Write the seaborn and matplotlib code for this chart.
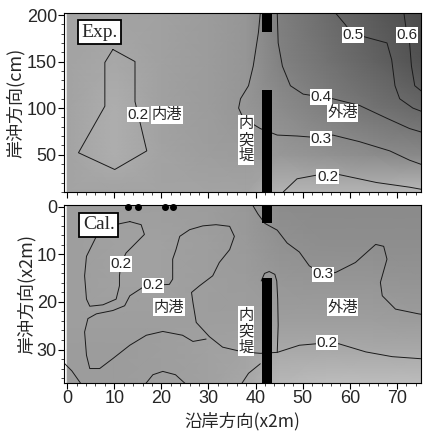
import numpy as np
import matplotlib
matplotlib.use("Agg")
import matplotlib.pyplot as plt
from matplotlib.colors import LinearSegmentedColormap
from matplotlib.ticker import MultipleLocator
import seaborn as sns

sns.set_theme(style="white")
plt.rcParams["font.family"] = ["Liberation Sans", "DejaVu Sans"]
CJK = ["Noto Sans CJK JP", "DejaVu Sans"]

# ---- shading field (wave height ratio) ----
exp_gx = [0, 10, 20, 30, 38, 45, 55, 65, 76]
exp_gy = [10, 50, 100, 150, 202]
exp_gz = [
    [0.22, 0.22, 0.22, 0.22, 0.22, 0.18, 0.18, 0.18, 0.17],
    [0.22, 0.19, 0.22, 0.24, 0.25, 0.27, 0.30, 0.33, 0.35],
    [0.22, 0.19, 0.23, 0.25, 0.28, 0.33, 0.40, 0.45, 0.50],
    [0.22, 0.20, 0.23, 0.25, 0.28, 0.38, 0.45, 0.52, 0.60],
    [0.22, 0.22, 0.23, 0.25, 0.28, 0.40, 0.48, 0.55, 0.62],
]
cal_gx = [0, 10, 20, 30, 38, 45, 55, 65, 76]
cal_gy = [-1, 8, 16, 24, 30, 38]
cal_gz = [
    [0.24, 0.24, 0.24, 0.25, 0.27, 0.33, 0.34, 0.34, 0.34],
    [0.24, 0.23, 0.23, 0.24, 0.26, 0.30, 0.32, 0.32, 0.32],
    [0.24, 0.23, 0.23, 0.24, 0.25, 0.27, 0.28, 0.28, 0.29],
    [0.24, 0.24, 0.24, 0.24, 0.24, 0.24, 0.24, 0.24, 0.25],
    [0.25, 0.25, 0.24, 0.23, 0.22, 0.20, 0.20, 0.20, 0.20],
    [0.25, 0.25, 0.24, 0.23, 0.20, 0.17, 0.16, 0.16, 0.16],
]

# ---- contour lines ----
exp_lines = [
    ([9.7, 14.4, 14.4, 15.4, 16.9, 10.1, 2.4, 8, 8, 9.7],
     [163, 150, 107, 86, 54, 34, 52, 102, 149, 163]),
    ([41, 40.6, 39.5, 38.5, 36.8, 36.4, 37.4, 41, 44.6, 48.8, 53.9, 56.4, 62, 68.5, 72.7, 76],
     [202, 181, 145, 124, 110, 100, 89, 78, 71, 70, 68, 71, 64, 54, 44, 38]),
    ([44.6, 44.8, 45.7, 47.4, 50.1, 53.9, 56.4, 62, 67.9, 72.7, 76],
     [202, 170, 145, 124, 115, 112, 110, 103, 89, 78, 73]),
    ([57, 59, 60.7, 62.8, 67.9, 68.9, 69.6, 70.6, 73.4, 76],
     [202, 190, 178.6, 177, 170, 152, 124, 110, 100, 95]),
    ([71.5, 72.1, 72.7, 73.1, 73.8, 76],
     [202, 180, 170, 145, 124, 115]),
    ([45.9, 48.8, 53, 55.3, 57.3, 65.7, 72.7, 76],
     [10, 24, 28, 27, 29, 20, 15, 12]),
]
cal_lines = [
    ([13.3, 15.7, 16.4, 14.3, 12.5, 11.4, 11.1, 11.1, 10.4, 7.6, 4.8, 4.1, 3.7, 4.1, 5.5, 6.2, 9, 13.3],
     [3.1, 3.75, 5.8, 7.9, 9.7, 12, 14.5, 16.6, 19.4, 20.6, 20.9, 19.4, 14.5, 10.4, 7.6, 6.2, 4, 3.1]),
    ([16.1, 18.2, 21.7, 22.4, 22.4, 23.1, 23.9, 26, 28.8, 31.6, 34.5, 35.5, 34.5, 32.3, 30.9, 28.1,
      26.4, 26.7, 27.4, 30.2, 33, 37.3, 41, 44.6, 49.3, 55.1, 57.7, 63.4, 69, 76],
     [16.9, 16.5, 16.3, 15.2, 11, 9, 6.2, 4.8, 4, 3.75, 4.1, 6.2, 9, 11.7, 14.5, 16.6,
      18, 20.1, 24.3, 27.3, 29.5, 30.5, 30.8, 30.6, 29.1, 28.6, 28.8, 30.5, 31.5, 32]),
    ([16.1, 13.3, 12.2, 9.7, 6.2, 4.4, 3.7, 4.1, 4.8, 6.9, 9.7, 13.3, 16.8, 20.3, 24.5, 26.7, 29.5],
     [16.9, 18.7, 20.8, 21.8, 22.5, 23.5, 26.3, 31.2, 34, 34, 31.9, 29.1, 27, 26.2, 27, 28.3, 27.8]),
    ([39, 40.5, 42, 44.6, 46.7, 49.3, 51.4, 54.3, 57, 61.2, 65.5, 67.2, 67.9, 66.5, 66.9, 69.7, 74.6, 76],
     [-1, 1.5, 3.5, 4.9, 7.6, 9.5, 12.4, 14.2, 13.8, 11.7, 7.9, 8.3, 11, 15.9, 18.7, 21.5, 22.5, 22.7]),
    ([41.2, 41.9, 42.9, 44.1, 44.5, 44.7, 44.8, 44.6],
     [15.6, 14, 13.6, 14.2, 15.6, 19.4, 24.9, 30.6]),
    ([16, 18.2, 20.3, 23, 26], [38, 35.3, 34.6, 35.3, 38]),
    ([-1, 1, 3.5], [32.5, 34.5, 38]),
    ([36.5, 38.5, 41], [38, 35, 33]),
]

# contour labels / place names
exp_labels = [(15, 92.8, "0.2"), (53.9, 67, "0.3"), (53.9, 112, "0.4"),
              (60.7, 178.6, "0.5"), (72.1, 178.6, "0.6"), (55.3, 26.4, "0.2")]
exp_names = [(21.2, 92.8, "内港"), (58.5, 95, "外港"), (37.9, 66, "内\n突\n堤")]
cal_labels = [(11.4, 12, "0.2"), (18.2, 16.5, "0.2"), (54.3, 14.2, "0.3"), (55.1, 28.6, "0.2")]
cal_names = [(21.6, 21.1, "内港"), (58.5, 21.1, "外港"), (37.9, 26.1, "内\n突\n堤")]

# breakwater (x range, y segments)
bw_x = (41.4, 43.4)
exp_bw = [(181.8, 203), (8, 119.6)]
cal_bw = [(-1, 3.5), (15, 38)]
gauge_x = [12.9, 15.0, 20.7, 22.5]

cmap = LinearSegmentedColormap.from_list(
    "halftone",
    [(0.0, "#d4d4d4"), (0.11, "#bebebe"), (0.18, "#a8a8a8"), (0.27, "#9c9c9c"),
     (0.36, "#929292"), (0.55, "#7e7e7e"), (0.73, "#676767"), (1.0, "#444444")])
VMIN, VMAX = 0.10, 0.65

fig = plt.figure(figsize=(4.23, 4.38), dpi=100)
ax1 = fig.add_axes([0.151, 0.562, 0.844, 0.408])
ax2 = fig.add_axes([0.151, 0.126, 0.844, 0.405])


def draw_panel(ax, gx, gy, gz, lines, labels, names, bw):
    X, Y = np.meshgrid(gx, gy)
    ax.pcolormesh(X, Y, np.array(gz), shading="gouraud", cmap=cmap, vmin=VMIN, vmax=VMAX,
                  rasterized=True)
    for lx, ly in lines:
        sns.lineplot(x=lx, y=ly, sort=False, estimator=None, ax=ax,
                     color="#1a1a1a", lw=0.7)
    for y0, y1 in bw:
        ax.fill_betweenx([y0, y1], bw_x[0], bw_x[1], color="black", lw=0, zorder=3)
    for x, y, t in labels:
        ax.text(x, y, t, ha="center", va="center", fontsize=11, zorder=5,
                bbox=dict(fc="white", ec="none", pad=0.4))
    for x, y, t in names:
        ax.text(x, y, t, ha="center", va="center", fontsize=11, family=CJK,
                linespacing=0.92, zorder=5,
                bbox=dict(fc="white", ec="none", pad=0.3))
    ax.set_xlim(-0.7, 75.1)
    for s in ax.spines.values():
        s.set_linewidth(0.8)
        s.set_color("black")
    ax.xaxis.set_major_locator(MultipleLocator(10))
    ax.xaxis.set_minor_locator(MultipleLocator(2))
    ax.tick_params(axis="both", which="major", direction="out", length=4, width=0.8,
                   labelsize=13, pad=1, left=True, bottom=True, color="black")
    ax.tick_params(axis="both", which="minor", direction="out", length=2, width=0.6,
                   left=True, bottom=True)


draw_panel(ax1, exp_gx, exp_gy, exp_gz, exp_lines, exp_labels, exp_names, exp_bw)
ax1.set_ylim(10, 202)
ax1.yaxis.set_major_locator(MultipleLocator(50))
ax1.yaxis.set_minor_locator(MultipleLocator(10))
ax1.tick_params(axis="x", which="both", labelbottom=False)
ax1.set_ylabel("岸沖方向(cm)", family=CJK, fontsize=13, labelpad=1)
ax1.text(6.9, 181.2, "Exp.", ha="center", va="center", fontsize=14,
         family=["Liberation Serif"], zorder=6,
         bbox=dict(fc="white", ec="black", lw=1.3, boxstyle="square,pad=0.18"))

draw_panel(ax2, cal_gx, cal_gy, cal_gz, cal_lines, cal_labels, cal_names, cal_bw)
ax2.set_ylim(37, -0.3)
ax2.yaxis.set_major_locator(MultipleLocator(10))
ax2.yaxis.set_minor_locator(MultipleLocator(2))
ax2.set_ylabel("岸沖方向(x2m)", family=CJK, fontsize=13, labelpad=1)
ax2.set_xlabel("沿岸方向(x2m)", family=CJK, fontsize=12.5, labelpad=4)
ax2.scatter(gauge_x, [0.1] * len(gauge_x), s=16, marker="o", color="black",
            clip_on=False, zorder=6)
ax2.text(6.7, 3.8, "Cal.", ha="center", va="center", fontsize=14,
         family=["Liberation Serif"], zorder=6,
         bbox=dict(fc="white", ec="black", lw=1.3, boxstyle="square,pad=0.18"))

fig.savefig("out.png", dpi=100)
